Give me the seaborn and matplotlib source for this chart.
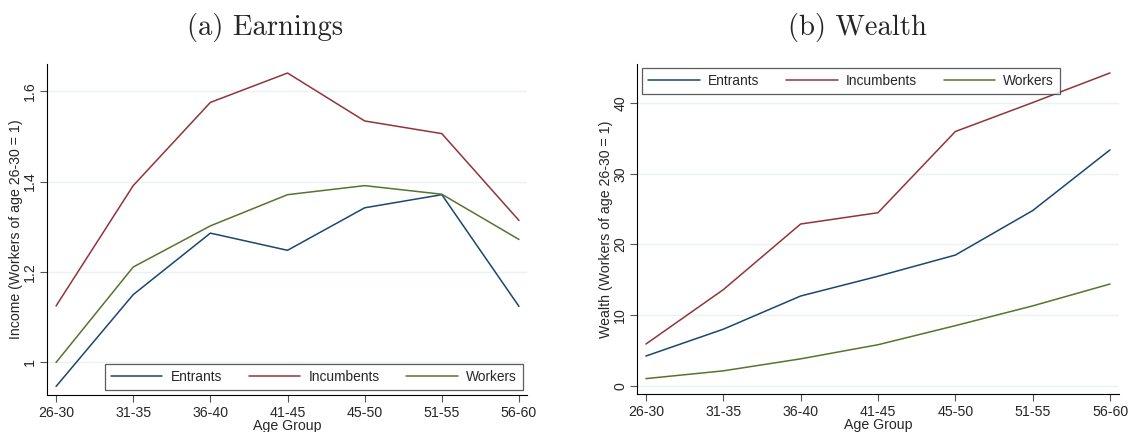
import numpy as np
import pandas as pd
import matplotlib
matplotlib.use("Agg")
import matplotlib.pyplot as plt
import seaborn as sns

age_groups = ["26-30", "31-35", "36-40", "41-45", "45-50", "51-55", "56-60"]
series_names = ["Entrants", "Incumbents", "Workers"]

earn_entrants = [0.947, 1.150, 1.286, 1.248, 1.342, 1.371, 1.124]
earn_incumbents = [1.125, 1.391, 1.575, 1.640, 1.534, 1.506, 1.314]
earn_workers = [1.000, 1.211, 1.302, 1.371, 1.391, 1.372, 1.272]

wealth_entrants = [4.2, 8.0, 12.7, 15.5, 18.5, 24.8, 33.4]
wealth_incumbents = [5.9, 13.6, 22.9, 24.5, 36.0, 40.1, 44.3]
wealth_workers = [1.0, 2.1, 3.8, 5.8, 8.5, 11.3, 14.4]

earn_ticks = [1.0, 1.2, 1.4, 1.6]
earn_ticklabels = ["1", "1.2", "1.4", "1.6"]
wealth_ticks = [0, 10, 20, 30, 40]
wealth_ticklabels = ["0", "10", "20", "30", "40"]

colors = {"Entrants": "#1a476f", "Incumbents": "#90353b", "Workers": "#55752f"}

def long_df(e, i, w):
    rows = []
    for name, vals in zip(series_names, [e, i, w]):
        for k, v in enumerate(vals):
            rows.append({"x": k, "value": v, "series": name})
    return pd.DataFrame(rows)

df_earn = long_df(earn_entrants, earn_incumbents, earn_workers)
df_wealth = long_df(wealth_entrants, wealth_incumbents, wealth_workers)

sns.set_style("white")
plt.rcParams["font.family"] = ["Liberation Sans", "DejaVu Sans"]

fig = plt.figure(figsize=(11.28, 4.32), dpi=100)
ax1 = fig.add_axes([0.0417, 0.0856, 0.4255, 0.7663])
ax2 = fig.add_axes([0.5647, 0.0873, 0.4273, 0.7646])

FS = 10.2
LFS = 9.9

def style(ax, df, ylim, yt, ytl, ylabel, xlim, legend_loc, legend_anchor):
    for yv in yt:
        ax.axhline(yv, color="#eaf2f3", lw=1.0, zorder=0)
    sns.lineplot(data=df, x="x", y="value", hue="series", palette=colors,
                 hue_order=series_names, ax=ax, lw=1.1, legend=True)
    ax.set_xlim(*xlim)
    ax.set_ylim(*ylim)
    ax.set_xticks(range(len(age_groups)))
    ax.set_xticklabels(age_groups, fontsize=FS)
    ax.set_yticks(yt)
    ax.set_yticklabels(ytl, fontsize=FS, rotation=90, va="center")
    ax.set_xlabel("Age Group", fontsize=FS, labelpad=-1)
    ax.set_ylabel(ylabel, fontsize=FS)
    ax.yaxis.set_label_coords(-0.050, 0.5)
    ax.tick_params(axis="x", direction="out", length=5, width=0.8, color="#555555", pad=3, bottom=True)
    ax.tick_params(axis="y", direction="out", length=5, width=0.8, color="#555555", pad=2, left=True)
    for s in ["top", "right"]:
        ax.spines[s].set_visible(False)
    for s in ["left", "bottom"]:
        ax.spines[s].set_color("black")
        ax.spines[s].set_linewidth(0.8)
    leg = ax.legend(loc=legend_loc, bbox_to_anchor=legend_anchor, ncol=3, fontsize=LFS,
                    frameon=True, fancybox=False, edgecolor="#333333", handlelength=3.75,
                    columnspacing=1.95, handletextpad=0.59, borderpad=0.45, borderaxespad=0)
    leg.get_frame().set_linewidth(0.9)
    for line in leg.get_lines():
        line.set_linewidth(1.1)

style(ax1, df_earn, (0.928, 1.66), earn_ticks, earn_ticklabels,
      "Income (Workers of age 26-30 = 1)", (-0.117, 6.104),
      "lower right", (0.9917, 0.015))
style(ax2, df_wealth, (-1.22, 45.57), wealth_ticks, wealth_ticklabels,
      "Wealth (Workers of age 26-30 = 1)", (-0.116, 6.116),
      "upper left", (0.0104, 0.988))

fig.text(265 / 1128, 1 - 28 / 432, "(a) Earnings", fontname="cmr10", fontsize=20.6,
         ha="center", va="center")
fig.text(857 / 1128, 1 - 28 / 432, "(b) Wealth", fontname="cmr10", fontsize=20.6,
         ha="center", va="center")

fig.savefig("out.png", dpi=100, facecolor="white")
